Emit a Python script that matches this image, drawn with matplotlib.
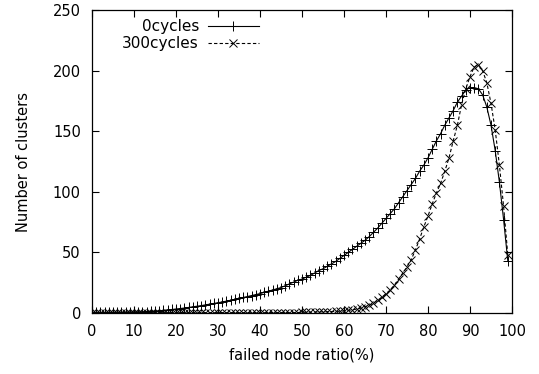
import numpy as np
import matplotlib
matplotlib.use("Agg")
import matplotlib.pyplot as plt

# failed node ratio (%)
ratio = list(range(0, 100))

# number of clusters, 0 cycles
clusters_0 = [
    0.5, 0.5, 0.5, 0.5, 0.6, 0.6, 0.7, 0.7, 0.8, 0.9,
    1.0, 1.0, 1.1, 1.2, 1.3, 1.5, 1.8, 2.1, 2.5, 2.9,
    3.3, 3.7, 4.1, 4.6, 5.1, 5.6, 6.1, 6.7, 7.3, 7.9,
    8.5, 9.1, 9.8, 10.5, 11.2, 12.0, 12.8, 13.6, 14.4, 15.2,
    16.0, 17.0, 18.0, 19.0, 20.0, 21.0, 22.5, 24.0, 25.5, 27.0,
    28.0, 29.5, 31.0, 33.0, 35.0, 36.5, 38.5, 40.5, 42.5, 45.0,
    47.5, 50.0, 52.5, 55.0, 57.5, 60.0, 63.0, 66.5, 70.0, 74.0,
    78.0, 82.0, 86.0, 91.0, 96.0, 101.0, 106.0, 111.0, 117.0, 122.0,
    128.0, 135.0, 142.0, 148.0, 155.0, 161.0, 167.0, 174.0, 179.0, 184.0,
    186.0, 186.0, 185.0, 180.0, 170.0, 155.0, 134.0, 108.0, 77.0, 43.0,
]

# number of clusters, 300 cycles
clusters_300 = [
    0.3, 0.3, 0.3, 0.3, 0.3, 0.3, 0.3, 0.3, 0.3, 0.3,
    0.3, 0.3, 0.3, 0.3, 0.3, 0.3, 0.3, 0.3, 0.3, 0.3,
    0.3, 0.3, 0.3, 0.3, 0.3, 0.3, 0.3, 0.3, 0.3, 0.3,
    0.3, 0.3, 0.3, 0.3, 0.3, 0.3, 0.3, 0.3, 0.3, 0.3,
    0.4, 0.4, 0.4, 0.4, 0.4, 0.4, 0.4, 0.4, 0.4, 0.4,
    0.5, 0.6, 0.7, 0.8, 0.9, 1.0, 1.1, 1.2, 1.3, 1.4,
    1.7, 2.1, 2.6, 3.2, 4.0, 5.2, 6.5, 8.0, 10.5, 13.0,
    16.0, 19.0, 23.0, 28.0, 33.0, 38.0, 44.0, 52.0, 61.0, 71.0,
    80.0, 90.0, 99.0, 107.0, 117.0, 128.0, 142.0, 155.0, 172.0, 185.0,
    195.0, 203.0, 205.0, 200.0, 190.0, 173.0, 151.0, 122.0, 88.0, 48.0,
]

plt.rcParams['font.family'] = ['DejaVu Sans']
plt.rcParams['font.size'] = 10.5

fig = plt.figure(figsize=(5.39, 3.74), dpi=100)
ax = fig.add_axes([92/539, 1 - 313/374, (512-92)/539, (313-10)/374])

ax.plot(ratio, clusters_0, color='black', lw=0.8, marker='+',
        ms=7, mew=0.7, label='0cycles')
ax.plot(ratio, clusters_300, color='black', lw=0.8, marker='x',
        ms=6, mew=0.7, dashes=(3, 2), label='300cycles')

ax.set_xlim(0, 100)
ax.set_ylim(0, 250)
ax.set_xticks(np.arange(0, 101, 10))
ax.set_yticks(np.arange(0, 251, 50))
ax.tick_params(direction='in', length=5, width=0.8, top=True, right=True)
ax.tick_params(axis='x', pad=8)
ax.tick_params(axis='y', pad=8)
for s in ax.spines.values():
    s.set_linewidth(0.9)

ax.set_xlabel('failed node ratio(%)', labelpad=6)
ax.set_ylabel('Number of clusters', labelpad=16)

leg = ax.legend(loc='upper left', bbox_to_anchor=(0.05, 1.0), frameon=False,
                markerfirst=False, numpoints=1, handlelength=3.3,
                handletextpad=0.6, labelspacing=0.15, fontsize=11,
                borderaxespad=0.2)

fig.savefig('out.png', dpi=100)
